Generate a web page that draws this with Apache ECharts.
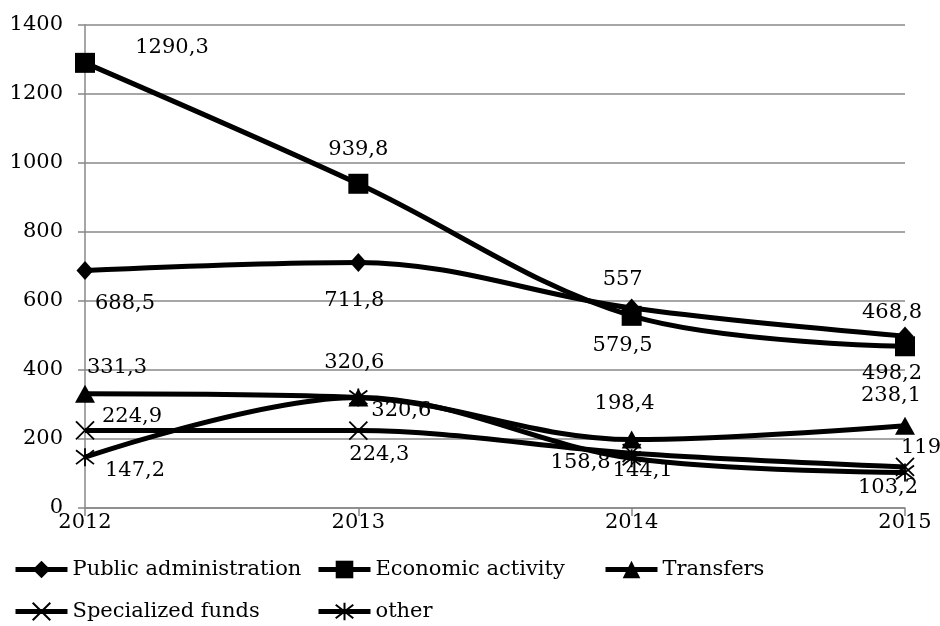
<!DOCTYPE html>
<html>
<head>
<meta charset="utf-8">
<script src="https://cdn.jsdelivr.net/npm/echarts@6/dist/echarts.min.js"></script>
<style>
html,body{margin:0;padding:0;background:#fff;}
#chart{width:940px;height:626px;}
</style>
</head>
<body>
<div id="chart"></div>
<script>
const categories = ['2012', '2013', '2014', '2015'];
const seriesNames = ['Public administration', 'Economic activity', 'Transfers', 'Specialized funds', 'other'];
const publicAdministration = [688.5, 711.8, 579.5, 498.2];
const economicActivity = [1290.3, 939.8, 557, 468.8];
const transfers = [331.3, 320.6, 198.4, 238.1];
const specializedFunds = [224.9, 224.3, 158.8, 119];
const other = [147.2, 320.6, 144.1, 103.2];
const yTicks = { min: 0, max: 1400, interval: 200 };

// layout: label offsets (label centre relative to point), in px
const labelOffsets = {
  'Public administration': [[40, 33], [-4, 38], [-9, 37], [-13, 37]],
  'Economic activity': [[87, -15], [0, -34], [-9, -36], [-13, -34]],
  'Transfers': [[32, -26], [-4, -35], [-7, -36], [-14, -30]],
  'Specialized funds': [[47, -14], [21, 24], [-51, 9], [16, -19]],
  'other': [[50, 13], [43, 13], [11, 12], [-17, 15]]
};

const FONT = 'DejaVu Serif';
const FS = 21;
const values = [publicAdministration, economicActivity, transfers, specializedFunds, other];
const symbols = [
  'diamond',
  'rect',
  'triangle',
  'path://M0,0L10,10M10,0L0,10',
  'path://M0,0L10,10M10,0L0,10M5,-1.5L5,11.5'
];
const symbolSizes = [[17, 19], 20, [20, 18], 18, 18];
const strokeMarker = [false, false, false, true, true];

const series = seriesNames.map((name, i) => ({
  name: name,
  type: 'line',
  smooth: 0.35,
  data: values[i].map((v, j) => ({
    value: v,
    label: { offset: labelOffsets[name][j] }
  })),
  symbol: symbols[i],
  symbolSize: symbolSizes[i],
  showAllSymbol: true,
  lineStyle: { color: '#000', width: 5 },
  itemStyle: strokeMarker[i]
    ? { color: '#000', borderColor: '#000', borderWidth: 1.8 }
    : { color: '#000', borderColor: '#000', borderWidth: 0 },
  label: {
    show: true,
    position: 'inside',
    color: '#000',
    fontFamily: FONT,
    fontSize: FS,
    formatter: p => String(p.value).replace('.', ',')
  },
  emphasis: { disabled: true },
  animation: false,
  z: 2 + i
}));

const legendPos = [
  { name: 'Public administration', left: 13, top: 559 },
  { name: 'Economic activity', left: 316, top: 559 },
  { name: 'Transfers', left: 603, top: 559 },
  { name: 'Specialized funds', left: 13, top: 601 },
  { name: 'other', left: 316, top: 601 }
];

const legends = legendPos.map(l => ({
  data: [l.name],
  left: l.left,
  top: l.top,
  padding: 0,
  itemWidth: 52,
  itemHeight: 22,
  selectedMode: false,
  lineStyle: { width: 5 },
  textStyle: { fontFamily: FONT, fontSize: FS, color: '#000' }
}));

const chart = echarts.init(document.getElementById('chart'), null, { renderer: 'canvas' });
chart.setOption({
  backgroundColor: '#fff',
  animation: false,
  legend: legends,
  grid: { left: 85, right: 35, top: 25, bottom: 118, containLabel: false },
  xAxis: {
    type: 'category',
    data: categories,
    boundaryGap: false,
    axisLine: { lineStyle: { color: '#888', width: 1.5 } },
    axisTick: { show: true, alignWithLabel: true, length: 8, lineStyle: { color: '#888', width: 1.5 } },
    axisLabel: { color: '#000', fontFamily: FONT, fontSize: FS, margin: 4 },
    splitLine: { show: false }
  },
  yAxis: {
    type: 'value',
    min: yTicks.min,
    max: yTicks.max,
    interval: yTicks.interval,
    axisLine: { show: true, lineStyle: { color: '#888', width: 1.5 } },
    axisTick: { show: true, length: 7, lineStyle: { color: '#888', width: 1.5 } },
    axisLabel: { color: '#000', fontFamily: FONT, fontSize: FS, margin: 22, formatter: v => String(v) },
    splitLine: { show: true, lineStyle: { color: '#888', width: 1.5 } }
  },
  series: series
});
</script>
</body>
</html>
